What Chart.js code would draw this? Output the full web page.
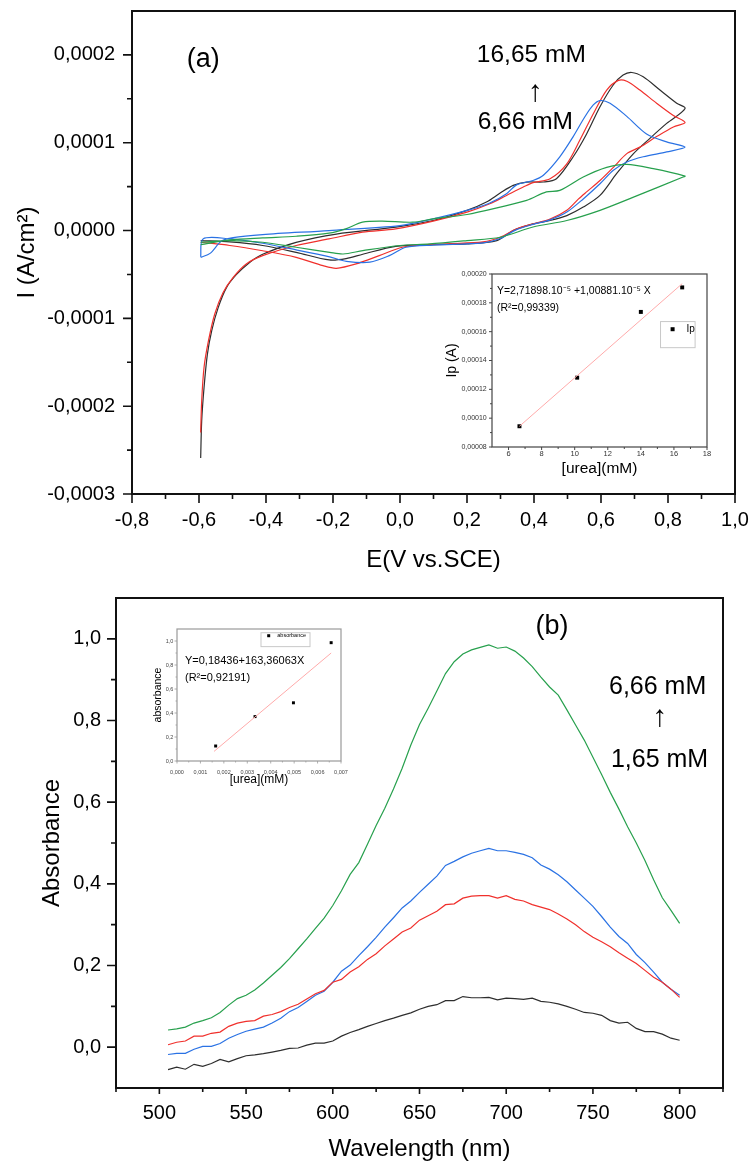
<!DOCTYPE html>
<html>
<head>
<meta charset="utf-8">
<script src="https://cdn.jsdelivr.net/npm/chart.js@4.4.0/dist/chart.umd.min.js"></script>
<style>
  html, body { margin: 0; padding: 0; background: #fff; }
  body { width: 751px; height: 1164px; position: relative; overflow: hidden; }
  canvas { position: absolute; }
</style>
</head>
<body>
<canvas id="cv" width="751" height="585" style="left:0;top:0"></canvas>
<canvas id="uv" width="751" height="579" style="left:0;top:585px"></canvas>
<canvas id="cvInset" width="280" height="218" style="left:440px;top:262px"></canvas>
<canvas id="uvInset" width="225" height="175" style="left:130px;top:615px"></canvas>
<script>
// ---- (a) cyclic voltammograms: [E (V vs SCE), I (x1e-4 A/cm2)] ----
const cvBlack = [[-0.595,-2.59],[-0.592,-2.17],[-0.585,-1.79],[-0.575,-1.41],[-0.562,-1.14],[-0.543,-0.88],[-0.518,-0.65],[-0.488,-0.50],[-0.448,-0.36],[-0.41,-0.27],[-0.31,-0.135],[-0.19,-0.04],[-0.012,0.04],[0.099,0.114],[0.20,0.229],[0.258,0.324],[0.299,0.427],[0.338,0.514],[0.378,0.552],[0.428,0.553],[0.467,0.59],[0.517,0.84],[0.557,1.10],[0.597,1.41],[0.637,1.66],[0.666,1.77],[0.692,1.80],[0.726,1.75],[0.776,1.60],[0.826,1.45],[0.851,1.39],
  [0.796,1.22],[0.746,1.05],[0.697,0.876],[0.647,0.65],[0.597,0.40],[0.547,0.267],[0.498,0.17],[0.448,0.114],[0.397,0.076],[0.338,0.0],[0.289,-0.114],[0.20,-0.152],[0.099,-0.16],[-0.013,-0.18],[-0.111,-0.27],[-0.161,-0.32],[-0.211,-0.335],[-0.31,-0.248],[-0.41,-0.17],[-0.508,-0.13],[-0.595,-0.114]];
const cvRed = [[-0.595,-2.30],[-0.592,-1.94],[-0.585,-1.56],[-0.572,-1.26],[-0.553,-0.95],[-0.528,-0.705],[-0.498,-0.533],[-0.459,-0.38],[-0.41,-0.286],[-0.31,-0.17],[-0.212,-0.095],[-0.112,-0.019],[-0.013,0.019],[0.099,0.107],[0.20,0.21],[0.268,0.305],[0.318,0.40],[0.368,0.495],[0.397,0.545],[0.448,0.59],[0.498,0.76],[0.537,1.03],[0.577,1.33],[0.617,1.60],[0.652,1.71],[0.677,1.70],[0.716,1.60],[0.766,1.45],[0.816,1.31],[0.851,1.23],
  [0.816,1.18],[0.766,1.07],[0.716,0.95],[0.677,0.876],[0.637,0.72],[0.597,0.57],[0.557,0.44],[0.533,0.36],[0.498,0.23],[0.448,0.13],[0.397,0.076],[0.348,0.02],[0.299,-0.076],[0.248,-0.13],[0.149,-0.15],[0.088,-0.16],[0.007,-0.19],[-0.062,-0.286],[-0.131,-0.38],[-0.19,-0.43],[-0.23,-0.40],[-0.31,-0.305],[-0.41,-0.23],[-0.508,-0.17],[-0.595,-0.133]];
const cvBlue = [[-0.595,-0.305],[-0.567,-0.26],[-0.533,-0.12],[-0.498,-0.08],[-0.41,-0.046],[-0.212,0.0],[0.0,0.057],[0.099,0.133],[0.20,0.229],[0.268,0.314],[0.318,0.419],[0.348,0.52],[0.397,0.57],[0.428,0.63],[0.477,0.84],[0.517,1.07],[0.551,1.29],[0.577,1.43],[0.597,1.48],[0.627,1.45],[0.677,1.30],[0.736,1.10],[0.796,1.01],[0.851,0.95],
  [0.796,0.895],[0.726,0.84],[0.677,0.78],[0.637,0.686],[0.597,0.533],[0.547,0.36],[0.498,0.21],[0.448,0.122],[0.397,0.07],[0.348,0.01],[0.299,-0.09],[0.248,-0.14],[0.099,-0.165],[0.018,-0.19],[-0.032,-0.286],[-0.09,-0.36],[-0.16,-0.35],[-0.21,-0.30],[-0.31,-0.22],[-0.41,-0.145],[-0.508,-0.095],[-0.588,-0.095],[-0.595,-0.30]];
const cvGreen = [[-0.595,-0.16],[-0.508,-0.107],[-0.41,-0.084],[-0.31,-0.065],[-0.212,-0.03],[-0.162,0.019],[-0.112,0.095],[-0.053,0.107],[0.038,0.095],[0.099,0.133],[0.20,0.183],[0.299,0.267],[0.378,0.343],[0.437,0.44],[0.477,0.457],[0.547,0.61],[0.617,0.72],[0.677,0.754],[0.756,0.705],[0.851,0.62],
  [0.845,0.61],[0.697,0.38],[0.597,0.23],[0.498,0.114],[0.397,0.04],[0.299,-0.076],[0.20,-0.114],[0.088,-0.152],[0.0,-0.17],[-0.111,-0.229],[-0.17,-0.267],[-0.21,-0.248],[-0.31,-0.19],[-0.41,-0.133],[-0.508,-0.114],[-0.595,-0.133]];

const eTicks = [-0.8, -0.6, -0.4, -0.2, 0, 0.2, 0.4, 0.6, 0.8, 1.0];
const eMinor = [-0.7, -0.5, -0.3, -0.1, 0.1, 0.3, 0.5, 0.7, 0.9];
const iTicks = [-3, -2, -1, 0, 1, 2];           // x1e-4
const iMinor = [-2.5, -1.5, -0.5, 0.5, 1.5];

// inset (a): peak current vs urea
const ipConc = [6.66, 10.15, 14.0, 16.5];
const ipPeak = [0.0000944, 0.0001281, 0.0001737, 0.0001907];
const ipFitX = [6.66, 16.5];
const ipFitY = [0.0000944, 0.0001933];
const ipXTicks = [6, 8, 10, 12, 14, 16, 18];
const ipXMinor = [7, 9, 11, 13, 15, 17];
const ipYTicks = [0.00008, 0.00010, 0.00012, 0.00014, 0.00016, 0.00018, 0.00020];
const ipYMinor = [0.00009, 0.00011, 0.00013, 0.00015, 0.00017, 0.00019];

// ---- (b) absorbance spectra ----
const wavelength = [505,510,515,520,525,530,535,540,545,550,555,560,565,570,575,580,585,590,595,600,605,610,615,620,625,630,635,640,645,650,655,660,665,670,675,680,685,690,695,700,705,710,715,720,725,730,735,740,745,750,755,760,765,770,775,780,785,790,795,800];
const absGreen = [0.042,0.045,0.049,0.059,0.065,0.072,0.085,0.103,0.119,0.127,0.14,0.157,0.176,0.195,0.217,0.241,0.265,0.291,0.316,0.347,0.383,0.423,0.452,0.497,0.543,0.585,0.632,0.683,0.74,0.79,0.83,0.872,0.915,0.944,0.963,0.973,0.979,0.985,0.977,0.98,0.97,0.953,0.932,0.906,0.882,0.862,0.826,0.789,0.752,0.71,0.668,0.624,0.583,0.54,0.5,0.457,0.41,0.366,0.335,0.303];
const absBlue = [-0.018,-0.015,-0.015,-0.005,0.002,0.002,0.009,0.022,0.031,0.039,0.044,0.049,0.059,0.071,0.087,0.097,0.112,0.127,0.137,0.159,0.186,0.201,0.224,0.246,0.269,0.294,0.317,0.341,0.358,0.379,0.399,0.419,0.445,0.455,0.466,0.475,0.481,0.487,0.481,0.481,0.477,0.472,0.464,0.446,0.436,0.422,0.405,0.385,0.365,0.345,0.32,0.294,0.271,0.254,0.227,0.207,0.184,0.159,0.142,0.127];
const absRed = [0.006,0.012,0.015,0.027,0.027,0.034,0.037,0.051,0.059,0.063,0.065,0.076,0.080,0.087,0.097,0.105,0.118,0.131,0.139,0.159,0.166,0.184,0.197,0.215,0.229,0.248,0.265,0.282,0.292,0.311,0.322,0.333,0.349,0.351,0.365,0.370,0.371,0.371,0.365,0.371,0.362,0.358,0.349,0.343,0.337,0.326,0.314,0.300,0.283,0.269,0.258,0.246,0.231,0.218,0.205,0.188,0.171,0.159,0.142,0.122];
const absBlack = [-0.055,-0.049,-0.054,-0.042,-0.047,-0.04,-0.03,-0.036,-0.028,-0.021,-0.019,-0.016,-0.012,-0.008,-0.003,-0.002,0.005,0.010,0.010,0.015,0.027,0.036,0.043,0.051,0.058,0.065,0.071,0.078,0.084,0.093,0.100,0.104,0.114,0.114,0.124,0.121,0.121,0.122,0.116,0.120,0.119,0.117,0.120,0.112,0.110,0.106,0.100,0.093,0.085,0.083,0.078,0.065,0.059,0.061,0.046,0.038,0.038,0.032,0.022,0.017];

const wlTicks = [500, 550, 600, 650, 700, 750, 800];
const wlMinor = [475, 525, 575, 625, 675, 725, 775, 825];
const aTicks = [0, 0.2, 0.4, 0.6, 0.8, 1.0];
const aMinor = [0.1, 0.3, 0.5, 0.7, 0.9];

// inset (b): absorbance vs urea
const absConc = [0.00165, 0.00333, 0.00497, 0.00658];
const absPeak = [0.125, 0.37, 0.485, 0.986];
const absFitX = [0.00158, 0.00658];
const absFitY = [0.08, 0.90];
const auXTicks = [0, 0.001, 0.002, 0.003, 0.004, 0.005, 0.006, 0.007];
const auXMinor = [0.0005, 0.0015, 0.0025, 0.0035, 0.0045, 0.0055, 0.0065];
const auYTicks = [0, 0.2, 0.4, 0.6, 0.8, 1.0];
const auYMinor = [0.1, 0.3, 0.5, 0.7, 0.9];

const FONT = "Arial, 'Liberation Sans', sans-serif";
const comma = (v, d) => v.toFixed(d).replace('.', ',');
const pairs = (xs, ys) => xs.map((x, i) => ({ x: x, y: ys[i] }));

// box, tick marks and free text drawn through the chart's own scales
const frame = {
  id: 'frame',
  afterDraw(chart, args, o) {
    const { ctx, chartArea: a } = chart;
    const sx = chart.scales.x, sy = chart.scales.y;
    ctx.save();
    ctx.strokeStyle = o.color;
    ctx.lineWidth = o.width;
    ctx.strokeRect(a.left, a.top, a.right - a.left, a.bottom - a.top);
    ctx.lineWidth = o.tickWidth;
    ctx.beginPath();
    const xt = (list, len) => list.forEach(v => {
      const p = sx.getPixelForValue(v);
      ctx.moveTo(p, a.bottom); ctx.lineTo(p, a.bottom + len);
    });
    const yt = (list, len) => list.forEach(v => {
      const p = sy.getPixelForValue(v);
      ctx.moveTo(a.left, p); ctx.lineTo(a.left - len, p);
    });
    xt(o.xMajor, o.xLen[0]); xt(o.xMinor, o.xLen[1]);
    yt(o.yMajor, o.yLen[0]); yt(o.yMinor, o.yLen[1]);
    ctx.stroke();
    (o.boxes || []).forEach(b => {
      ctx.strokeStyle = b.color; ctx.lineWidth = 1;
      const x0 = sx.getPixelForValue(b.x0), x1 = sx.getPixelForValue(b.x1);
      const y0 = sy.getPixelForValue(b.y0), y1 = sy.getPixelForValue(b.y1);
      ctx.strokeRect(x0, y0, x1 - x0, y1 - y0);
    });
    (o.markers || []).forEach(m => {
      ctx.fillStyle = '#000';
      const px = sx.getPixelForValue(m.x), py = sy.getPixelForValue(m.y);
      ctx.fillRect(px - m.s / 2, py - m.s / 2, m.s, m.s);
    });
    (o.notes || []).forEach(n => {
      ctx.font = n.size + 'px ' + FONT;
      ctx.fillStyle = '#000';
      ctx.textAlign = n.align || 'center';
      ctx.textBaseline = 'middle';
      ctx.fillText(n.text, sx.getPixelForValue(n.x), sy.getPixelForValue(n.y));
    });
    ctx.restore();
  }
};

function axis(o) {
  return {
    type: 'linear', min: o.min, max: o.max,
    grid: { display: false, drawTicks: false }, border: { display: false },
    afterBuildTicks: s => { s.ticks = o.ticks.map(v => ({ value: v })); },
    afterFit: s => {
      if (o.width) s.width = o.width;
      if (o.height) s.height = o.height;
      s.paddingLeft = 0; s.paddingRight = 0; s.paddingTop = 0; s.paddingBottom = 0;
    },
    ticks: { padding: o.pad, color: o.tickColor || '#000', autoSkip: false, maxRotation: 0,
      font: { family: FONT, size: o.tickSize }, callback: o.fmt },
    title: { display: true, text: o.title, color: '#000', font: { family: FONT, size: o.titleSize },
      padding: o.titlePad }
  };
}

const base = {
  responsive: false, animation: false, devicePixelRatio: 1,
  events: []
};

// ---- chart (a) ----
const cvLine = (pts, color) => ({
  data: pts.map(p => ({ x: p[0], y: p[1] })), showLine: true, borderColor: color,
  borderWidth: 1.2, pointRadius: 0, tension: 0.3, fill: false
});

new Chart(document.getElementById('cv'), {
  type: 'scatter',
  data: { datasets: [cvLine(cvGreen, '#27a04d'), cvLine(cvBlue, '#2a72e4'), cvLine(cvRed, '#f0302c'), cvLine(cvBlack, '#2e2e2e')] },
  options: Object.assign({}, base, {
    layout: { padding: { top: 11, right: 16, left: 0, bottom: 0 } },
    plugins: {
      legend: { display: false }, tooltip: { enabled: false },
      frame: { color: '#111', width: 2, tickWidth: 1.6,
        xMajor: eTicks, xMinor: eMinor, yMajor: iTicks, yMinor: iMinor, xLen: [9, 5], yLen: [9, 5],
        notes: [
          { text: '(a)', x: -0.587, y: 1.95, size: 27 },
          { text: '16,65 mM', x: 0.392, y: 2.0, size: 24.5 },
          { text: '\u2191', x: 0.404, y: 1.57, size: 30 },
          { text: '6,66 mM', x: 0.374, y: 1.235, size: 24.5 }
        ] }
    },
    scales: {
      x: axis({ min: -0.8, max: 1.0, ticks: eTicks, height: 91, pad: 14, tickSize: 20,
        fmt: v => comma(v, 1), title: 'E(V vs.SCE)', titleSize: 24, titlePad: { top: 0, bottom: 10.6 } }),
      y: axis({ min: -3, max: 2.5, ticks: iTicks, width: 132, pad: 17, tickSize: 20,
        fmt: v => comma(v * 1e-4, 4), title: 'I (A/cm\u00b2)', titleSize: 24, titlePad: { top: 13, bottom: 0 } })
    }
  }),
  plugins: [frame]
});

// ---- inset (a) ----
new Chart(document.getElementById('cvInset'), {
  type: 'scatter',
  data: { datasets: [
    { data: pairs(ipFitX, ipFitY), showLine: true, borderColor: '#ffaaaa', borderWidth: 1, pointRadius: 0 },
    { data: pairs(ipConc, ipPeak), pointStyle: 'rect', pointRadius: 2.8, backgroundColor: '#000', borderColor: '#000', borderWidth: 0 }
  ] },
  options: Object.assign({}, base, {
    layout: { padding: { top: 12, right: 13, left: 0, bottom: 0 } },
    plugins: {
      legend: { display: false }, tooltip: { enabled: false },
      frame: { color: '#444', width: 1.2, tickWidth: 1,
        xMajor: ipXTicks, xMinor: ipXMinor, yMajor: ipYTicks, yMinor: ipYMinor, xLen: [3, 2], yLen: [3, 2],
        boxes: [{ x0: 15.19, y0: 0.000167, x1: 17.28, y1: 0.0001489, color: '#c8c8c8' }],
        markers: [{ x: 15.92, y: 0.0001617, s: 4 }],
        notes: [
          { text: 'Y=2,71898.10\u207b\u2075 +1,00881.10\u207b\u2075 X', x: 5.3, y: 0.0001879, size: 10.5, align: 'left' },
          { text: '(R\u00b2=0,99339)', x: 5.3, y: 0.0001763, size: 10.5, align: 'left' },
          { text: 'Ip', x: 16.76, y: 0.0001617, size: 10, align: 'left' }
        ] }
    },
    scales: {
      x: axis({ min: 5, max: 18, ticks: ipXTicks, height: 33, pad: 2.5, tickSize: 7.5, tickColor: '#333',
        fmt: v => String(v), title: '[urea](mM)', titleSize: 15.5, titlePad: { top: 0, bottom: 1.7 } }),
      y: axis({ min: 0.00008, max: 0.0002, ticks: ipYTicks, width: 52, pad: 5.3, tickSize: 7, tickColor: '#333',
        fmt: v => comma(v, 5), title: 'Ip (A)', titleSize: 14, titlePad: { top: 3.6, bottom: 0 } })
    }
  }),
  plugins: [frame]
});

// ---- chart (b) ----
const uvLine = (ys, color) => ({
  data: pairs(wavelength, ys), borderColor: color, borderWidth: 1.2, pointRadius: 0, tension: 0, fill: false
});

new Chart(document.getElementById('uv'), {
  type: 'line',
  data: { datasets: [uvLine(absBlack, '#2e2e2e'), uvLine(absRed, '#f0302c'), uvLine(absBlue, '#2a72e4'), uvLine(absGreen, '#27a04d')] },
  options: Object.assign({}, base, {
    layout: { padding: { top: 13, right: 28, left: 0, bottom: 0 } },
    plugins: {
      legend: { display: false }, tooltip: { enabled: false },
      frame: { color: '#111', width: 2, tickWidth: 1.6,
        xMajor: wlTicks, xMinor: wlMinor, yMajor: aTicks, yMinor: aMinor, xLen: [6, 4], yLen: [9, 5],
        notes: [
          { text: '(b)', x: 726.4, y: 1.029, size: 27 },
          { text: '6,66 mM', x: 787.3, y: 0.882, size: 25 },
          { text: '\u2191', x: 788.5, y: 0.807, size: 30 },
          { text: '1,65 mM', x: 788.4, y: 0.704, size: 25 }
        ] }
    },
    scales: {
      x: axis({ min: 475, max: 825, ticks: wlTicks, height: 76, pad: 13, tickSize: 20,
        fmt: v => String(v), title: 'Wavelength (nm)', titleSize: 24, titlePad: { top: 0, bottom: 0 } }),
      y: axis({ min: -0.1, max: 1.1, ticks: aTicks, width: 116, pad: 15, tickSize: 20,
        fmt: v => comma(v, 1), title: 'Absorbance', titleSize: 24, titlePad: { top: 37.6, bottom: 0 } })
    }
  }),
  plugins: [frame]
});

// ---- inset (b) ----
new Chart(document.getElementById('uvInset'), {
  type: 'scatter',
  data: { datasets: [
    { data: pairs(absFitX, absFitY), showLine: true, borderColor: '#ffaaaa', borderWidth: 1, pointRadius: 0 },
    { data: pairs(absConc, absPeak), pointStyle: 'rect', pointRadius: 2.1, backgroundColor: '#000', borderColor: '#000', borderWidth: 0 }
  ] },
  options: Object.assign({}, base, {
    layout: { padding: { top: 14, right: 14, left: 0, bottom: 0 } },
    plugins: {
      legend: { display: false }, tooltip: { enabled: false },
      frame: { color: '#9a9a9a', width: 1.2, tickWidth: 0.8,
        xMajor: auXTicks, xMinor: auXMinor, yMajor: auYTicks, yMinor: auYMinor, xLen: [2.5, 1.5], yLen: [2.5, 1.5],
        boxes: [{ x0: 0.003585, y0: 1.069, x1: 0.005677, y1: 0.953, color: '#c8c8c8' }],
        markers: [{ x: 0.003914, y: 1.044, s: 3 }],
        notes: [
          { text: 'Y=0,18436+163,36063X', x: 0.000341, y: 0.833, size: 11, align: 'left' },
          { text: '(R\u00b2=0,92191)', x: 0.000341, y: 0.689, size: 11, align: 'left' },
          { text: 'absorbance', x: 0.00428, y: 1.047, size: 5.5, align: 'left' }
        ] }
    },
    scales: {
      x: axis({ min: 0, max: 0.007, ticks: auXTicks, height: 29, pad: 7.7, tickSize: 5.5, tickColor: '#444',
        fmt: v => comma(v, 3), title: '[urea](mM)', titleSize: 12, titlePad: { top: 0, bottom: 2.8 } }),
      y: axis({ min: 0, max: 1.1, ticks: auYTicks, width: 47, pad: 3.7, tickSize: 5.5, tickColor: '#444',
        fmt: v => comma(v, 1), title: 'absorbance', titleSize: 10.5, titlePad: { top: 21.7, bottom: 0 } })
    }
  }),
  plugins: [frame]
});
</script>
</body>
</html>
